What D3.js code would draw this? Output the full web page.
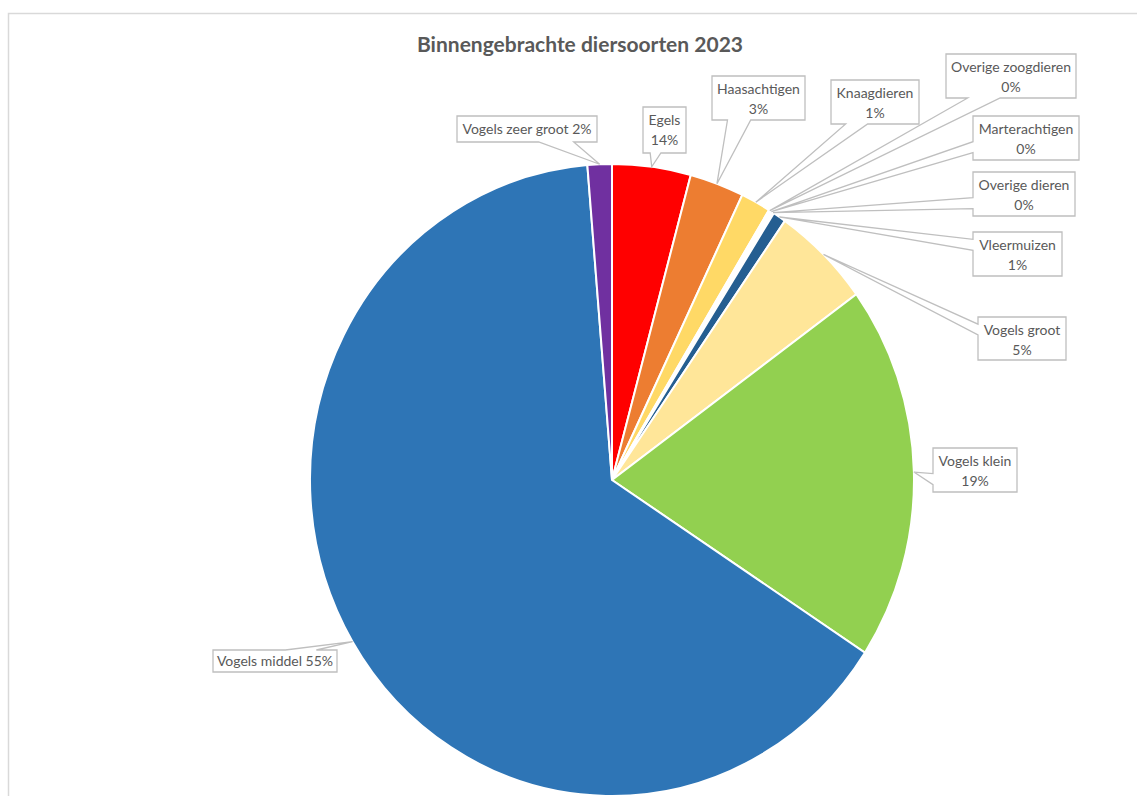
<!DOCTYPE html>
<html lang="nl">
  <head>
    <meta charset="UTF-8" />
    <title>Binnengebrachte diersoorten 2023</title>
    <script src="https://d3js.org/d3.v7.min.js"></script>
    <style>
      body {
        margin: 0;
        background: #fff;
        font-family: Lato, "Open Sans", sans-serif;
      }
      svg {
        display: block;
      }
    </style>
  </head>
  <body>
    <svg id="chart" width="1137" height="796"></svg>
    <script>
      // Data (slice share in %, printed label text)
      const categories = [
        "Egels",
        "Haasachtigen",
        "Knaagdieren",
        "Overige zoogdieren",
        "Marterachtigen",
        "Overige dieren",
        "Vleermuizen",
        "Vogels groot",
        "Vogels klein",
        "Vogels middel",
        "Vogels zeer groot",
      ];
      const values = [4.2, 2.9, 1.6, 0.1, 0.1, 0.1, 0.7, 5.3, 19.2, 64.5, 1.3];
      const pctLabels = ["14%", "3%", "1%", "0%", "0%", "0%", "1%", "5%", "19%", "55%", "2%"];
      const colors = [
        "#ff0000",
        "#ed7d31",
        "#ffd966",
        "#ffc000",
        "#a5a5a5",
        "#f4b183",
        "#255e91",
        "#ffe699",
        "#92d050",
        "#2e75b6",
        "#7030a0",
      ];

      // callout boxes: [x, y, w, h, oneLine]
      const boxes = [
        [643, 107, 43, 46, false],
        [712, 76, 93, 44, false],
        [831, 80, 88, 44, false],
        [946, 54, 130, 44, false],
        [973, 116, 106, 44, false],
        [973, 172, 102, 44, false],
        [973, 232, 89, 44, false],
        [978, 317, 88, 43, false],
        [933, 448, 84, 44, false],
        [213, 650, 124, 22, true],
        [457, 116, 140, 26, true],
      ];

      const svg = d3.select("#chart");
      const cx = 612,
        cy = 480,
        r = 302,
        ry = 316;
      const sy = ry / r;

      // chart frame
      svg
        .append("rect")
        .attr("x", 8.5)
        .attr("y", 13.5)
        .attr("width", 1300)
        .attr("height", 1000)
        .attr("fill", "#fff")
        .attr("stroke", "#d9d9d9")
        .attr("stroke-width", 1.5);

      svg
        .append("text")
        .attr("x", 580)
        .attr("y", 52)
        .attr("text-anchor", "middle")
        .attr("font-size", 21)
        .attr("font-weight", "bold")
        .attr("fill", "#595959")
        .text("Binnengebrachte diersoorten 2023");

      const data = categories.map((c, i) => ({ name: c, value: values[i], i }));
      const pie = d3.pie().sort(null).value((d) => d.value);
      const arcs = pie(data);
      const arc = d3.arc().innerRadius(0).outerRadius(r);

      const g = svg
        .append("g")
        .attr("transform", `translate(${cx},${cy}) scale(1,${sy})`);

      g.selectAll("path")
        .data(arcs)
        .enter()
        .append("path")
        .attr("d", arc)
        .attr("fill", (d) => colors[d.data.i])
        .attr("stroke", "#fff")
        .attr("stroke-width", 2)
        .attr("vector-effect", "non-scaling-stroke");

      // Excel-style wedgeRectCallout
      function callout(b, tx, ty) {
        const [x, y, w, h] = b;
        const hc = x + w / 2,
          vc = y + h / 2;
        const dx = tx - hc,
          dy = ty - vc;
        const dq = (dx * h) / w;
        const dz = Math.abs(dy) - Math.abs(dq);
        const x1 = x + (w * (dx > 0 ? 7 : 2)) / 12,
          x2 = x + (w * (dx > 0 ? 10 : 5)) / 12;
        const y1 = y + (h * (dy > 0 ? 7 : 2)) / 12,
          y2 = y + (h * (dy > 0 ? 10 : 5)) / 12;
        const p = d3.path();
        if (dz > 0) {
          if (dy < 0) {
            p.moveTo(x, y);
            p.lineTo(x1, y);
            p.lineTo(tx, ty);
            p.lineTo(x2, y);
            p.lineTo(x + w, y);
            p.lineTo(x + w, y + h);
            p.lineTo(x, y + h);
          } else {
            p.moveTo(x, y);
            p.lineTo(x + w, y);
            p.lineTo(x + w, y + h);
            p.lineTo(x2, y + h);
            p.lineTo(tx, ty);
            p.lineTo(x1, y + h);
            p.lineTo(x, y + h);
          }
        } else if (dx < 0) {
          p.moveTo(x, y);
          p.lineTo(x + w, y);
          p.lineTo(x + w, y + h);
          p.lineTo(x, y + h);
          p.lineTo(x, y2);
          p.lineTo(tx, ty);
          p.lineTo(x, y1);
        } else {
          p.moveTo(x, y);
          p.lineTo(x + w, y);
          p.lineTo(x + w, y1);
          p.lineTo(tx, ty);
          p.lineTo(x + w, y2);
          p.lineTo(x + w, y + h);
          p.lineTo(x, y + h);
        }
        p.closePath();
        return p.toString();
      }

      const labels = svg.append("g");
      arcs.forEach((a) => {
        const i = a.data.i;
        const mid = (a.startAngle + a.endAngle) / 2;
        const tx = cx + r * Math.sin(mid);
        const ty = cy - ry * Math.cos(mid);
        const b = boxes[i];
        labels
          .append("path")
          .attr("d", callout(b, tx, ty))
          .attr("fill", "#fff")
          .attr("stroke", "#bfbfbf")
          .attr("stroke-width", 1.3);
        const t = labels
          .append("text")
          .attr("text-anchor", "middle")
          .attr("font-size", 14)
          .attr("fill", "#595959");
        if (b[4]) {
          t.attr("x", b[0] + b[2] / 2)
            .attr("y", b[1] + b[3] / 2 + 5)
            .text(`${a.data.name} ${pctLabels[i]}`);
        } else {
          t.append("tspan")
            .attr("x", b[0] + b[2] / 2)
            .attr("y", b[1] + 18)
            .text(a.data.name);
          t.append("tspan")
            .attr("x", b[0] + b[2] / 2)
            .attr("y", b[1] + 38)
            .text(pctLabels[i]);
        }
      });
    </script>
  </body>
</html>
